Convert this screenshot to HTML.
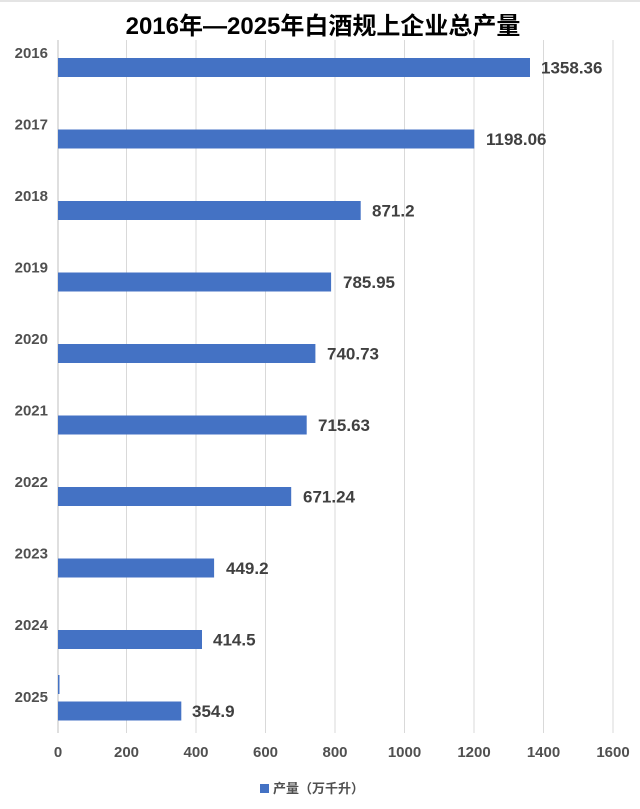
<!DOCTYPE html>
<html><head><meta charset="utf-8"><style>
body{margin:0;background:#fff;width:640px;height:804px;overflow:hidden;font-family:"Liberation Sans","Noto Sans CJK SC",sans-serif}
</style></head><body>
<svg width="640" height="804" xmlns="http://www.w3.org/2000/svg" font-family="Liberation Sans, Noto Sans CJK SC, sans-serif">
<line x1="0" y1="1" x2="640" y2="1" stroke="#e4e4e4" stroke-width="2"/>
<text x="323" y="34" text-anchor="middle" font-size="24" font-weight="bold" fill="#000">2016年—2025年白酒规上企业总产量</text>
<g stroke="#d9d9d9" stroke-width="1">
<line x1="126.5" y1="40" x2="126.5" y2="733"/><line x1="196" y1="40" x2="196" y2="733"/>
<line x1="265.5" y1="40" x2="265.5" y2="733"/><line x1="335" y1="40" x2="335" y2="733"/>
<line x1="404.5" y1="40" x2="404.5" y2="733"/><line x1="474" y1="40" x2="474" y2="733"/>
<line x1="543.5" y1="40" x2="543.5" y2="733"/><line x1="613" y1="40" x2="613" y2="733"/>
<line x1="58" y1="40" x2="58" y2="733" stroke="#bfbfbf"/>
</g>
<g fill="#4472c4">
<rect x="58" y="58" width="472" height="19"/>
<rect x="58" y="129.5" width="416.3" height="19"/>
<rect x="58" y="201" width="302.7" height="19"/>
<rect x="58" y="272.5" width="273.1" height="19"/>
<rect x="58" y="344" width="257.4" height="19"/>
<rect x="58" y="415.5" width="248.7" height="19"/>
<rect x="58" y="487" width="233.2" height="19"/>
<rect x="58" y="558.5" width="156.1" height="19"/>
<rect x="58" y="630" width="144" height="19"/>
<rect x="58" y="701.5" width="123.3" height="19"/>
<rect x="58" y="675" width="1.5" height="19"/>
</g>
<g font-size="17" font-weight="bold" fill="#404040">
<text x="541" y="73.5">1358.36</text>
<text x="486" y="145">1198.06</text>
<text x="372" y="216.5">871.2</text>
<text x="343" y="288">785.95</text>
<text x="327" y="359.5">740.73</text>
<text x="318" y="431">715.63</text>
<text x="303" y="502.5">671.24</text>
<text x="226" y="574">449.2</text>
<text x="213" y="645.5">414.5</text>
<text x="192" y="717">354.9</text>
</g>
<g font-size="15" font-weight="bold" fill="#505050" text-anchor="end">
<text x="48" y="58">2016</text><text x="48" y="129.5">2017</text><text x="48" y="201">2018</text>
<text x="48" y="272.5">2019</text><text x="48" y="344">2020</text><text x="48" y="415.5">2021</text>
<text x="48" y="487">2022</text><text x="48" y="558.5">2023</text><text x="48" y="630">2024</text>
<text x="48" y="702">2025</text>
</g>
<g font-size="15" font-weight="bold" fill="#505050" text-anchor="middle">
<text x="58" y="757">0</text><text x="126.5" y="757">200</text><text x="196" y="757">400</text>
<text x="265.5" y="757">600</text><text x="335" y="757">800</text><text x="404.5" y="757">1000</text>
<text x="474" y="757">1200</text><text x="543.5" y="757">1400</text><text x="613" y="757">1600</text>
</g>
<rect x="260" y="784" width="9" height="9" fill="#4472c4"/>
<text x="273" y="793" font-size="13" font-weight="bold" fill="#505050">产量（万千升）</text>
</svg>
</body></html>
